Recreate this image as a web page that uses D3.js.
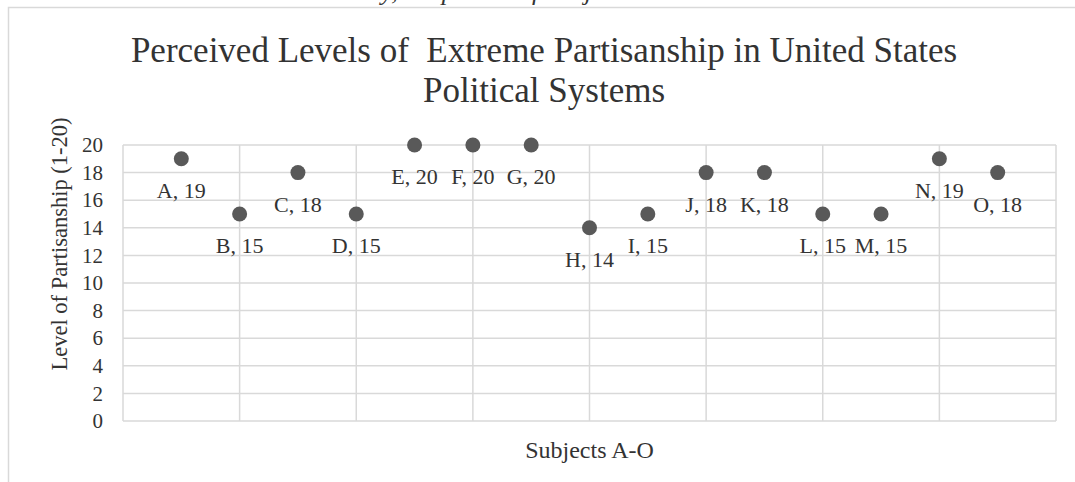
<!DOCTYPE html>
<html>
<head>
<meta charset="utf-8">
<script src="https://cdn.jsdelivr.net/npm/d3@7"></script>
<style>
  html, body { margin: 0; padding: 0; background: #fff; }
  svg { display: block; }
  text { font-family: "Liberation Serif", "Times New Roman", serif; fill: #333; white-space: pre; }
</style>
</head>
<body>
<svg id="chart" width="1075" height="482"></svg>
<script>
// Subjects and their self-reported partisanship level (scale 1-20)
const subjects = ["A","B","C","D","E","F","G","H","I","J","K","L","M","N","O"];
const positions = [1,2,3,4,5,6,7,8,9,10,11,12,13,14,15];
const levels = [19,15,18,15,20,20,20,14,15,18,18,15,15,19,18];
const yTicks = [0,2,4,6,8,10,12,14,16,18,20];
const xGrid = [0,2,4,6,8,10,12,14,16];

const titleLines = ["Perceived Levels of  Extreme Partisanship in United States", "Political Systems"];
const yTitle = "Level of Partisanship (1-20)";
const xTitle = "Subjects A-O";
const caption = "Survey, Responses of Subjects";

const svg = d3.select("#chart");
const gridColor = "#d9d9d9";

const x = d3.scaleLinear().domain([0, 16]).range([123, 1056]);
const y = d3.scaleLinear().domain([0, 20]).range([421, 145]);

// caption line of the surrounding document, running off the top edge
svg.append("text")
  .attr("x", 322).attr("y", 0)
  .style("font-style", "italic")
  .style("font-size", "26px")
  .text(caption);

// chart frame
svg.append("path")
  .attr("d", "M8.5,490 V7.5 H1075")
  .attr("fill", "none")
  .attr("stroke", gridColor)
  .attr("stroke-width", 1.5);

// horizontal gridlines
svg.append("g")
  .selectAll("line")
  .data(yTicks)
  .join("line")
  .attr("x1", x(0)).attr("x2", x(16))
  .attr("y1", d => y(d)).attr("y2", d => y(d))
  .attr("stroke", gridColor).attr("stroke-width", 1.5);

// vertical gridlines
svg.append("g")
  .selectAll("line")
  .data(xGrid)
  .join("line")
  .attr("x1", d => x(d)).attr("x2", d => x(d))
  .attr("y1", y(0)).attr("y2", y(20))
  .attr("stroke", gridColor).attr("stroke-width", 1.5);

// y-axis tick labels
const yAxis = d3.axisLeft(y).tickValues(yTicks).tickSize(0).tickPadding(20);
const gy = svg.append("g").attr("transform", `translate(${x(0)},0)`).call(yAxis);
gy.select(".domain").remove();
gy.selectAll("text")
  .style("font-family", "Liberation Serif, serif")
  .style("font-size", "21px")
  .attr("fill", "#333");

// markers
svg.append("g")
  .selectAll("circle")
  .data(levels)
  .join("circle")
  .attr("cx", (d, i) => x(positions[i]))
  .attr("cy", d => y(d))
  .attr("r", 7.5)
  .attr("fill", "#595959");

// data labels beneath each marker
svg.append("g")
  .selectAll("text")
  .data(levels)
  .join("text")
  .attr("x", (d, i) => x(positions[i]))
  .attr("y", d => y(d) + 39)
  .attr("text-anchor", "middle")
  .style("font-size", "22px")
  .text((d, i) => `${subjects[i]}, ${d}`);

// chart title
svg.append("g")
  .selectAll("text")
  .data(titleLines)
  .join("text")
  .attr("x", 544)
  .attr("y", (d, i) => 62 + i * 40)
  .attr("text-anchor", "middle")
  .style("font-size", "35px")
  .text(d => d);

// axis titles
svg.append("text")
  .attr("transform", `translate(67,${244}) rotate(-90)`)
  .attr("text-anchor", "middle")
  .style("font-size", "22.5px")
  .text(yTitle);

svg.append("text")
  .attr("x", (x(0) + x(16)) / 2)
  .attr("y", 458)
  .attr("text-anchor", "middle")
  .style("font-size", "24px")
  .text(xTitle);
</script>
</body>
</html>
